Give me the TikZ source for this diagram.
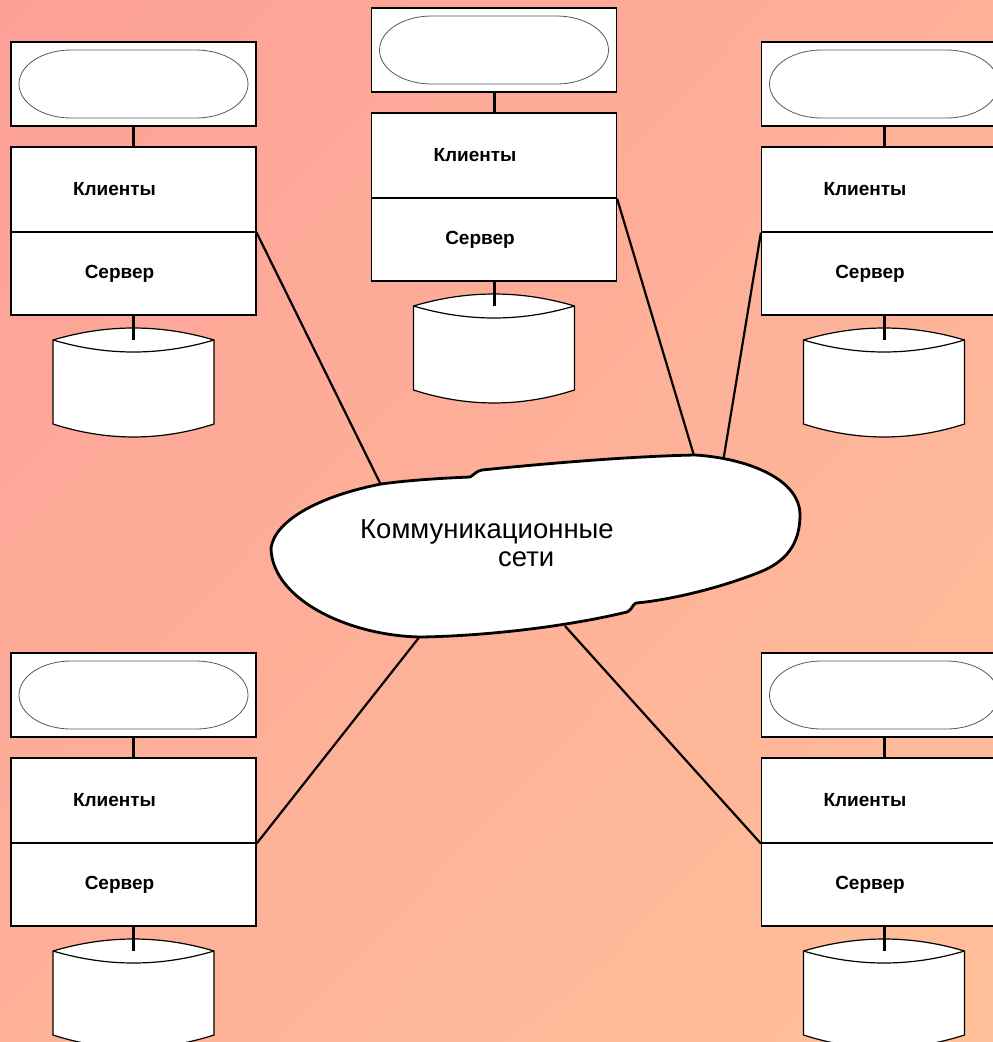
\documentclass[tikz,border=0pt]{standalone}
\usepackage{fontspec}
\setmainfont{Liberation Sans}
\usetikzlibrary{calc,shadings}

\definecolor{bgTL}{RGB}{252,160,151}
\definecolor{bgMid}{RGB}{254,176,153}
\definecolor{bgBR}{RGB}{255,192,153}

\begin{document}
\begin{tikzpicture}[x=1pt, y=-1pt,
  scr/.style={draw, fill=white, line width=1.2pt, minimum width=245pt, minimum height=84pt, inner sep=0pt},
  part/.style={draw, fill=white, line width=1.2pt, minimum width=245pt, inner sep=0pt},
  lbl/.style={font=\bfseries\fontsize{19}{22}\selectfont, inner sep=0pt},
  oval/.style={draw=black!65, line width=0.8pt},
  disk/.style={draw, fill=white, line width=1.2pt},
  stem/.style={line width=3pt},
  link/.style={line width=2.2pt},
  blob/.style={draw, fill=white, line width=2.8pt, line join=round}]

  % Background
  \shade[upper left=bgTL, upper right=bgMid, lower left=bgMid, lower right=bgBR] (0,0) rectangle (993,1042);
  \useasboundingbox (0,0) rectangle (993,1042);
  \clip (0,0) rectangle (993,1042);

  % Workstations: screen, clients/server box, disk
  \foreach \n/\cx/\cy in {1/133.5/84, 2/494/50, 3/884/84, 4/133.5/695, 5/884/695} {
    \node[scr] (scr\n) at (\cx,\cy) {};
    \draw[oval, shift={(\cx,\cy)}] (-114.5,0) .. controls (-114.5,-18.8) and (-91.2,-34) .. (-62.5,-34)
      -- (62.5,-34) .. controls (91.2,-34) and (114.5,-18.8) .. (114.5,0)
      .. controls (114.5,18.8) and (91.2,34) .. (62.5,34) -- (-62.5,34)
      .. controls (-91.2,34) and (-114.5,18.8) .. cycle;
    \node[part, minimum height=85pt, label={[lbl, xshift=-19pt, name=clitxt\n]center:Клиенты}] (cli\n) at (\cx,\cy+105.5) {};
    \node[part, minimum height=83pt, label={[lbl, xshift=-14pt, name=srvtxt\n]center:Сервер}] (srv\n) at (\cx,\cy+189.5) {};
    \draw[disk, shift={(\cx,\cy)}] (-80.5,256) .. controls (-26.8,240) and (26.8,240) .. (80.5,256) -- (80.5,340)
      .. controls (26.8,357.3) and (-26.8,357.3) .. (-80.5,340) -- cycle;
    \draw[disk, shift={(\cx,\cy)}] (-80.5,256) .. controls (-26.8,272) and (26.8,272) .. (80.5,256);
    \coordinate (db\n) at (\cx,\cy+256);
    \draw[stem] (scr\n) -- (cli\n);
    \draw[stem] (srv\n.south) -- (db\n);
  }

  % Ends on the network
  \coordinate (ctl) at (382,487);
  \coordinate (ctc) at (695,459);
  \coordinate (ctr) at (723,462);
  \coordinate (cbl) at (421,635);
  \coordinate (cbr) at (565,626);

  \draw[link] (cli1.south east) -- (ctl);
  \draw[link] (cli2.south east) -- (ctc);
  \draw[link] (cli3.south west) -- (ctr);
  \draw[link] (cli4.south east) -- (cbl);
  \draw[link] (cli5.south west) -- (cbr);

  % Network
  \draw[blob] (271,548) .. controls (275,520) and (320,496) .. (381,484)
    .. controls (410,480) and (445,478) .. (470,477)
    .. controls (474,475) and (476,471) .. (482,470)
    .. controls (560,462) and (640,456) .. (695,455)
    .. controls (745,458) and (800,478) .. (800,515)
    .. controls (800,545) and (785,562) .. (760,572)
    .. controls (720,588) and (670,600) .. (636,603)
    .. controls (632,605) and (632,610) .. (627,612)
    .. controls (560,628) and (480,636) .. (421,637)
    .. controls (350,636) and (272,600) .. cycle;
  \node[font=\fontsize{27.5}{30}\selectfont, anchor=base west, inner sep=0pt] (net1) at (360,538) {Коммуникационные};
  \node[font=\fontsize{27.5}{30}\selectfont, anchor=base west, inner sep=0pt] (net2) at (498,566) {сети};

\end{tikzpicture}
\end{document}
